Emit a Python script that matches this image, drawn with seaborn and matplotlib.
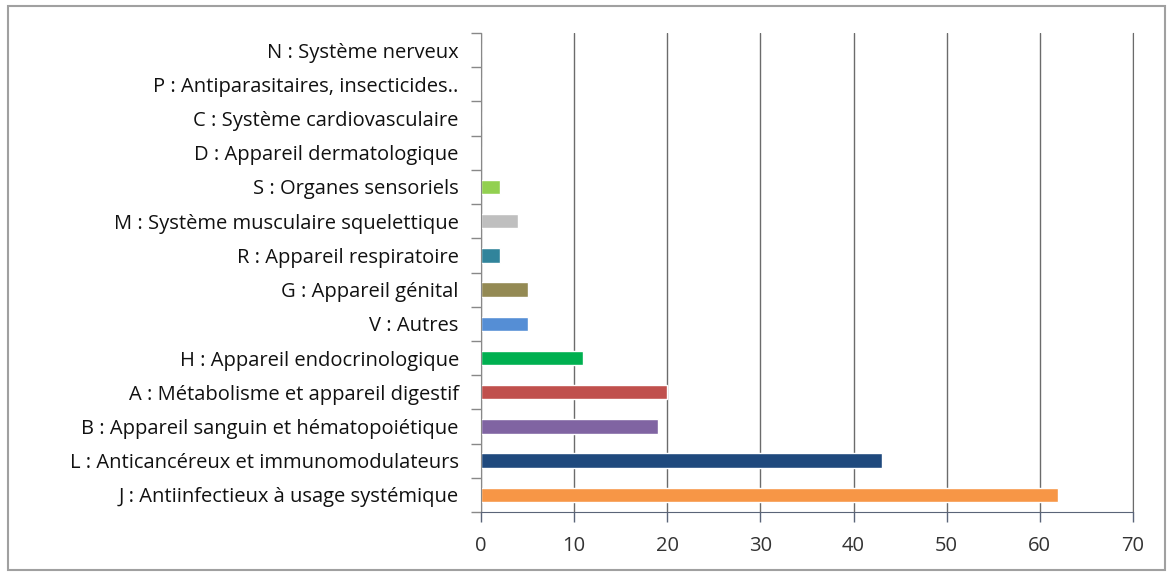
import matplotlib
matplotlib.use("Agg")
import matplotlib.pyplot as plt
import seaborn as sns
import numpy as np
from matplotlib.patches import Rectangle

categories = [
    "N : Système nerveux",
    "P : Antiparasitaires, insecticides..",
    "C : Système cardiovasculaire",
    "D : Appareil dermatologique",
    "S : Organes sensoriels",
    "M : Système musculaire squelettique",
    "R : Appareil respiratoire",
    "G : Appareil génital",
    "V : Autres",
    "H : Appareil endocrinologique",
    "A : Métabolisme et appareil digestif",
    "B : Appareil sanguin et hématopoiétique",
    "L : Anticancéreux et immunomodulateurs",
    "J : Antiinfectieux à usage systémique",
]
values = [0, 0, 0, 0, 2, 4, 2, 5, 5, 11, 20, 19, 43, 62]
colors = ["#4F81BD", "#4F81BD", "#4F81BD", "#4F81BD", "#92D050", "#BFBFBF",
          "#31849B", "#948A54", "#558ED5", "#00B050", "#C0504D", "#8064A2",
          "#1F497D", "#F79646"]
xticks = [0, 10, 20, 30, 40, 50, 60, 70]

sns.set_style("white")
plt.rcParams['font.family'] = ['Open Sans', 'DejaVu Sans']

fig = plt.figure(figsize=(11.7, 5.76), dpi=100)
ax = fig.add_axes([481/1170, 1 - 512/576, (1133-481)/1170, (512-33)/576])

sns.barplot(x=values, y=categories, hue=categories, palette=colors,
            legend=False, width=0.42, orient="h", ax=ax, saturation=1)

ax.set_xlim(0, 70)
ax.set_ylim(len(categories) - 0.5, -0.5)
ax.set_xticks(xticks)
ax.set_xticklabels([str(t) for t in xticks], fontsize=14.5, color="#333333")
ax.set_yticks(np.arange(-0.5, len(categories), 1.0), minor=True)
ax.tick_params(axis="y", which="major", labelsize=14.5, labelcolor="#111111",
               length=0, pad=16)
ax.tick_params(axis="y", which="minor", length=7, width=1, color="#888888",
               direction="out", left=True)
ax.tick_params(axis="x", length=7, width=1, color="#5a6478", direction="out",
               bottom=True, pad=10)
ax.set_xlabel("")
ax.set_ylabel("")
ax.grid(axis="x", color="#6b6b6b", linewidth=1)
ax.set_axisbelow(True)
ax.spines["top"].set_visible(False)
ax.spines["right"].set_color("#6b6b6b")
ax.spines["left"].set_color("#888888")
ax.spines["bottom"].set_color("#5a6478")

fig.patches.append(Rectangle((8/1170, 6/576), (1165-8)/1170, (570-6)/576,
                             transform=fig.transFigure, fill=False,
                             edgecolor="#a0a0a0", linewidth=1.5))

fig.savefig("out.png", dpi=100)
